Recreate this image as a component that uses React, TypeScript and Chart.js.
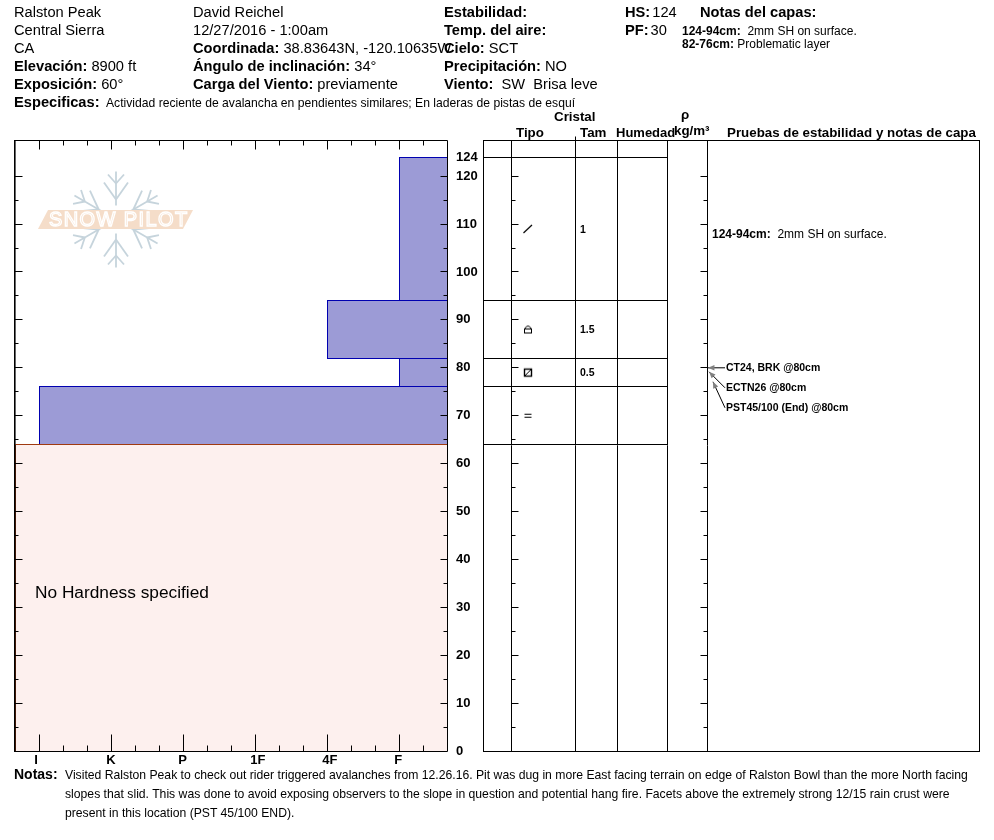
import React, { useEffect, useRef } from "react";
import { Chart, registerables } from "chart.js";

Chart.register(...registerables);

// ---- data ----
const hardnessLabels = ["I", "K", "P", "1F", "4F", "F"];
const hardnessTicks = [1, 4 / 3, 5 / 3, 2, 7 / 3, 8 / 3, 3, 10 / 3, 11 / 3, 4, 13 / 3, 14 / 3, 5, 16 / 3, 17 / 3, 6, 19 / 3];
const depthTicks = [0, 5, 10, 15, 20, 25, 30, 35, 40, 45, 50, 55, 60, 65, 70, 75, 80, 85, 90, 95, 100, 105, 110, 115, 120, 124];
const layerTops = [124, 94, 82, 76];
const layerBottoms = [94, 82, 76, 64];
const layerHardness = [6, 5, 6, 1];
const noHardnessTop = 64;
const noHardnessBottom = 0;
const grainForms = ["slash", "lock", "box", "equal"];
const grainSizes = ["1", "1.5", "0.5", ""];
const testNames = ["CT24, BRK @80cm", "ECTN26 @80cm", "PST45/100 (End) @80cm"];
const testDepth = 80;

// ---- layout ----
const AXIS = { top: 140, bottom: 751 };
const Y_MAX = 127.557;
const X_MIN = 0.65;
const X_MAX = 6.664;
const COLS = [0, 28, 92, 134, 184, 224, 496];
const RIGHT_LEFT = 483;
const PURPLE = "#9c9bd6";
const BLUE = "#0000b0";
const PINK = "#fdf0ee";
const BROWN = "#a03a10";
const FONT = '"Liberation Sans", Arial, sans-serif';

const snap = (v: number) => Math.floor(v) + 0.5;

function line(ctx: CanvasRenderingContext2D, x1: number, y1: number, x2: number, y2: number) {
  ctx.beginPath();
  ctx.moveTo(x1, y1);
  ctx.lineTo(x2, y2);
  ctx.stroke();
}

function drawLogo(ctx: CanvasRenderingContext2D) {
  const cx = 116;
  const cy = 219.5;
  ctx.save();
  ctx.strokeStyle = "#c6d4dc";
  ctx.lineWidth = 1.8;
  for (let i = 0; i < 6; i++) {
    ctx.save();
    ctx.translate(cx, cy);
    ctx.rotate(((60 * i) * Math.PI) / 180);
    line(ctx, 0, -14, 0, -48);
    for (const [d, w, h] of [[-20, 12, 17], [-36, 8, 9]]) {
      line(ctx, 0, d, -w, d - h);
      line(ctx, 0, d, w, d - h);
    }
    ctx.restore();
  }
  ctx.fillStyle = "#f5ddc9";
  ctx.beginPath();
  ctx.moveTo(48, 210);
  ctx.lineTo(193, 210);
  ctx.lineTo(183, 229);
  ctx.lineTo(38, 229);
  ctx.closePath();
  ctx.fill();
  ctx.font = `20px ${FONT}`;
  (ctx as any).letterSpacing = "1.4px";
  ctx.textAlign = "left";
  ctx.textBaseline = "middle";
  ctx.strokeStyle = "#ffffff";
  ctx.lineWidth = 1.3;
  ctx.strokeText("SNOW PILOT", 49, 220);
  ctx.restore();
}

const leftPlugin = {
  id: "leftFrame",
  beforeDatasetsDraw(chart: any) {
    drawLogo(chart.ctx);
  },
  afterDatasetsDraw(chart: any) {
    const { ctx, chartArea: a, scales } = chart;
    const l = snap(a.left);
    const r = snap(a.right);
    const t = snap(a.top);
    const b = snap(a.bottom);
    ctx.save();
    ctx.lineWidth = 1;
    // layer outlines
    ctx.strokeStyle = BLUE;
    layerTops.forEach((top, i) => {
      const x = snap(scales.x.getPixelForValue(layerHardness[i]));
      const y1 = snap(scales.y.getPixelForValue(top));
      const y2 = snap(scales.y.getPixelForValue(layerBottoms[i]));
      ctx.strokeRect(x, y1, r - x, y2 - y1);
    });
    // no-hardness outline
    ctx.strokeStyle = BROWN;
    const y64 = snap(scales.y.getPixelForValue(noHardnessTop));
    line(ctx, l + 1, y64, r, y64);
    line(ctx, l + 1, y64, l + 1, b);
    // frame
    ctx.strokeStyle = "#000";
    line(ctx, l, t, r, t);
    line(ctx, l, b, r, b);
    line(ctx, r, t, r, b);
    ctx.fillStyle = "#000";
    ctx.fillRect(a.left, a.top, 1.6, a.bottom - a.top + 1);
    // hardness ticks: top and bottom
    hardnessTicks.forEach((v, i) => {
      const x = snap(scales.x.getPixelForValue(v));
      const major = i % 3 === 0;
      line(ctx, x, t, x, t + (major ? 9 : 5));
      line(ctx, x, b, x, b - (major ? 17 : 6));
    });
    // depth ticks: left and right
    depthTicks.forEach((v) => {
      if (v === 124 || v === 0) return;
      const y = snap(scales.y.getPixelForValue(v));
      const major = v % 10 === 0;
      line(ctx, l, y, l + (major ? 8 : 4), y);
      line(ctx, r, y, r - (major ? 7 : 4), y);
    });
    ctx.restore();
  },
};

function grainImage(kind: string) {
  const c = document.createElement("canvas");
  c.width = 12;
  c.height = 12;
  const g = c.getContext("2d")!;
  g.strokeStyle = "#000";
  g.lineWidth = 1;
  if (kind === "slash") {
    g.lineWidth = 1.2;
    line(g, 1.5, 10, 10, 2);
  } else if (kind === "lock") {
    g.strokeRect(2.5, 5.5, 7, 4);
    g.beginPath();
    g.moveTo(2.5, 5.5);
    g.quadraticCurveTo(6, -0.5, 9.5, 5.5);
    g.stroke();
  } else if (kind === "box") {
    g.lineWidth = 1.4;
    g.strokeRect(2.5, 2.5, 7, 7);
    g.lineWidth = 1;
    line(g, 2.5, 9.5, 9.5, 2.5);
  } else {
    line(g, 2.5, 4.5, 9.5, 4.5);
    line(g, 2.5, 7.5, 9.5, 7.5);
  }
  return c;
}

const rightPlugin = {
  id: "rightFrame",
  afterDatasetsDraw(chart: any) {
    const { ctx, chartArea: a, scales } = chart;
    const px = (v: number) => scales.x.getPixelForValue(v);
    const py = (v: number) => scales.y.getPixelForValue(v);
    const l = snap(a.left);
    const r = snap(a.right);
    const t = snap(a.top);
    const b = snap(a.bottom);
    ctx.save();
    ctx.lineWidth = 1;
    ctx.strokeStyle = "#000";
    ctx.strokeRect(l, t, r - l, b - t);
    // the small riser above the crystal column divider
    line(ctx, snap(px(COLS[2])), t - 4, snap(px(COLS[2])), t);
    // layer boundaries stop at the density column
    const stop = snap(px(COLS[4]));
    [layerTops[0], ...layerBottoms].forEach((v) => {
      const y = snap(py(v));
      line(ctx, l, y, stop, y);
    });
    // depth ticks on the type and test columns
    const c1 = snap(px(COLS[1]));
    const c5 = snap(px(COLS[5]));
    depthTicks.forEach((v) => {
      if (v === 124 || v === 0) return;
      const y = snap(py(v));
      const len = v % 10 === 0 ? 7 : 4;
      line(ctx, c1, y, c1 + len, y);
      line(ctx, c5, y, c5 - len, y);
    });
    // crystal sizes
    ctx.fillStyle = "#000";
    ctx.textBaseline = "middle";
    ctx.textAlign = "left";
    ctx.font = `bold 10.5px ${FONT}`;
    grainSizes.forEach((s, i) => {
      if (s) ctx.fillText(s, px(97), py((layerTops[i] + layerBottoms[i]) / 2) + 1);
    });
    // stability tests and their arrows
    const y80 = py(testDepth);
    const tips = [
      [225, y80],
      [226, y80 + 4],
      [230, y80 + 14],
    ];
    testNames.forEach((name, i) => {
      const ty = y80 + i * 20;
      ctx.fillStyle = "#000";
      ctx.font = `bold 10.5px ${FONT}`;
      ctx.fillText(name, px(243), ty);
      const [tx, tipY] = tips[i];
      const x0 = px(tx);
      const x1 = px(242);
      ctx.strokeStyle = "#000";
      line(ctx, x1, ty, x0, tipY);
      const ang = Math.atan2(tipY - ty, x0 - x1);
      ctx.fillStyle = "#808080";
      ctx.beginPath();
      ctx.moveTo(x0, tipY);
      ctx.lineTo(x0 - 7 * Math.cos(ang - 0.4), tipY - 7 * Math.sin(ang - 0.4));
      ctx.lineTo(x0 - 7 * Math.cos(ang + 0.4), tipY - 7 * Math.sin(ang + 0.4));
      ctx.closePath();
      ctx.fill();
    });
    ctx.restore();
  },
};

type TP = { x: number; y: number; size?: number; bold?: boolean; children: React.ReactNode };
function T({ x, y, size = 14.67, bold, children }: TP) {
  return (
    <div
      style={{
        position: "absolute",
        left: x,
        top: y - 10,
        lineHeight: "20px",
        fontSize: size,
        fontWeight: bold ? 700 : 400,
        fontFamily: FONT,
        whiteSpace: "pre",
        color: "#000",
      }}
    >
      {children}
    </div>
  );
}
const B = ({ children }: { children: React.ReactNode }) => <b>{children}</b>;

export default function App() {
  const leftRef = useRef<HTMLCanvasElement>(null);
  const rightRef = useRef<HTMLCanvasElement>(null);

  useEffect(() => {
    const fills: any[] = [
      {
        label: "No hardness",
        data: [{ x: X_MIN, y: noHardnessTop }, { x: X_MAX, y: noHardnessTop }],
        showLine: true,
        pointRadius: 0,
        borderWidth: 0,
        backgroundColor: PINK,
        fill: { target: { value: noHardnessBottom } },
      },
      ...layerTops.map((top, i) => ({
        label: `${top}-${layerBottoms[i]}`,
        data: [{ x: layerHardness[i], y: top }, { x: X_MAX, y: top }],
        showLine: true,
        pointRadius: 0,
        borderWidth: 0,
        backgroundColor: PURPLE,
        fill: { target: { value: layerBottoms[i] } },
      })),
    ];
    const left = new Chart(leftRef.current!, {
      type: "scatter",
      data: { datasets: fills },
      plugins: [leftPlugin],
      options: {
        animation: false,
        responsive: false,
        layout: { padding: { left: 14, top: AXIS.top, right: 0, bottom: 0 } },
        plugins: { legend: { display: false }, tooltip: { enabled: false } },
        scales: {
          x: {
            type: "linear",
            min: X_MIN,
            max: X_MAX,
            grid: { display: false, drawTicks: false },
            border: { display: false },
            afterBuildTicks: (s: any) => {
              s.ticks = hardnessTicks.map((value) => ({ value }));
            },
            afterFit: (s: any) => {
              s.height = 840 - AXIS.bottom;
            },
            ticks: {
              autoSkip: false,
              maxRotation: 0,
              padding: 2,
              align: "start",
              labelOffset: -5,
              color: "#000",
              font: { family: FONT, size: 13, weight: "bold" },
              callback: (v: any) => (Number.isInteger(v) ? hardnessLabels[v - 1] : ""),
            },
          },
          y: {
            type: "linear",
            position: "right",
            min: 0,
            max: Y_MAX,
            grid: { display: false, drawTicks: false },
            border: { display: false },
            afterBuildTicks: (s: any) => {
              s.ticks = depthTicks.map((value) => ({ value }));
            },
            afterFit: (s: any) => {
              s.width = 33;
            },
            ticks: {
              autoSkip: false,
              padding: 9,
              color: "#000",
              font: { family: FONT, size: 13, weight: "bold" },
              callback: (v: any) => (v % 10 === 0 || v === 124 ? String(v) : ""),
            },
          },
        },
      } as any,
    });

    const grainData = grainForms.map((_, i) => ({
      x: 45,
      y: (layerTops[i] + layerBottoms[i]) / 2,
    }));
    const right = new Chart(rightRef.current!, {
      type: "scatter",
      data: {
        datasets: [
          {
            label: "Tipo",
            data: grainData,
            pointStyle: grainForms.map(grainImage) as any,
            pointRadius: 6,
          },
        ],
      },
      plugins: [rightPlugin],
      options: {
        animation: false,
        responsive: false,
        layout: {
          padding: { left: RIGHT_LEFT, top: AXIS.top, right: 994 - RIGHT_LEFT - COLS[6], bottom: 840 - AXIS.bottom },
        },
        plugins: { legend: { display: false }, tooltip: { enabled: false } },
        scales: {
          x: {
            type: "linear",
            min: COLS[0],
            max: COLS[6],
            grid: { color: "#000", lineWidth: 1, drawTicks: false },
            border: { display: false },
            afterBuildTicks: (s: any) => {
              s.ticks = COLS.map((value) => ({ value }));
            },
            afterFit: (s: any) => {
              s.height = 0;
            },
            ticks: { display: false },
          },
          y: {
            type: "linear",
            min: 0,
            max: Y_MAX,
            grid: { display: false, drawTicks: false },
            border: { display: false },
            afterFit: (s: any) => {
              s.width = 0;
            },
            ticks: { display: false },
          },
        },
      } as any,
    });
    return () => {
      left.destroy();
      right.destroy();
    };
  }, []);

  const canvasStyle: React.CSSProperties = { position: "absolute", left: 0, top: 0, display: "block" };
  return (
    <div style={{ position: "absolute", left: 0, top: 0, width: 994, height: 840, background: "#fff", overflow: "hidden" }}>
      <canvas ref={leftRef} width={480} height={840} style={{ ...canvasStyle, width: 480, height: 840 }} />
      <canvas ref={rightRef} width={994} height={840} style={{ ...canvasStyle, width: 994, height: 840 }} />

      <T x={14} y={12}>Ralston Peak</T>
      <T x={14} y={30}>Central Sierra</T>
      <T x={14} y={48}>CA</T>
      <T x={14} y={66}><B>Elevación:</B> 8900 ft</T>
      <T x={14} y={84}><B>Exposición:</B> 60°</T>
      <T x={14} y={102}><B>Especificas:</B></T>
      <T x={106} y={103} size={12.15}>Actividad reciente de avalancha en pendientes similares; En laderas de pistas de esquí</T>

      <T x={193} y={12}>David Reichel</T>
      <T x={193} y={30}>12/27/2016 - 1:00am</T>
      <T x={193} y={48}><B>Coordinada:</B> 38.83643N, -120.10635W</T>
      <T x={193} y={66}><B>Ángulo de inclinación:</B> 34°</T>
      <T x={193} y={84}><B>Carga del Viento:</B> previamente</T>

      <T x={444} y={12}><B>Estabilidad:</B></T>
      <T x={444} y={30}><B>Temp. del aire:</B></T>
      <T x={444} y={48}><B>Cielo:</B> SCT</T>
      <T x={444} y={66}><B>Precipitación:</B> NO</T>
      <T x={444} y={84}><B>Viento:</B>  SW  Brisa leve</T>

      <T x={625} y={12}><B>HS:</B><span style={{ marginLeft: 2 }}>124</span></T>
      <T x={625} y={30}><B>PF:</B><span style={{ marginLeft: 2 }}>30</span></T>
      <T x={700} y={12} bold>Notas del capas:</T>
      <T x={682} y={31} size={12}><B>124-94cm:</B>  2mm SH on surface.</T>
      <T x={682} y={44} size={12}><B>82-76cm:</B> Problematic layer</T>

      <T x={554} y={117} size={13.33} bold>Cristal</T>
      <T x={681} y={115} size={13.33} bold>ρ</T>
      <T x={516} y={133} size={13.33} bold>Tipo</T>
      <T x={580} y={133} size={13.33} bold>Tam</T>
      <T x={616} y={133} size={13} bold>Humedad</T>
      <T x={674} y={131} size={13.33} bold>kg/m³</T>
      <T x={727} y={133} size={13.33} bold>Pruebas de estabilidad y notas de capa</T>

      <T x={712} y={234} size={12}><B>124-94cm:</B>  2mm SH on surface.</T>
      <T x={35} y={592} size={17.3}>No Hardness specified</T>

      <T x={14} y={774} size={14}><B>Notas:</B></T>
      <T x={65} y={775} size={12.2}>Visited Ralston Peak to check out rider triggered avalanches from 12.26.16. Pit was dug in more East facing terrain on edge of Ralston Bowl than the more North facing</T>
      <T x={65} y={794} size={12.2}>slopes that slid. This was done to avoid exposing observers to the slope in question and potential hang fire. Facets above the extremely strong 12/15 rain crust were</T>
      <T x={65} y={813} size={12.2}>present in this location (PST 45/100 END).</T>
    </div>
  );
}
